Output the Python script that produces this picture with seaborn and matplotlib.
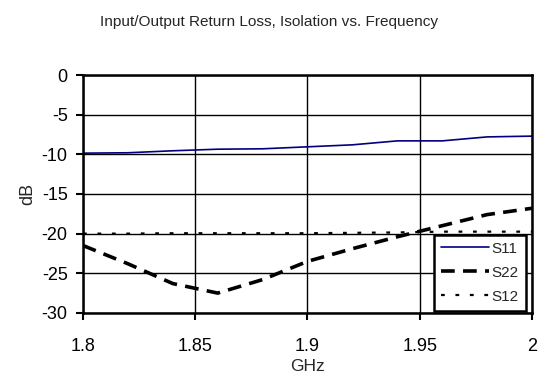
import matplotlib
matplotlib.use("Agg")
import matplotlib.pyplot as plt
import seaborn as sns
import pandas as pd

freq = [1.80, 1.82, 1.84, 1.86, 1.88, 1.90, 1.92, 1.94, 1.96, 1.98, 2.00]
s11 = [-9.85, -9.8, -9.55, -9.35, -9.3, -9.05, -8.8, -8.3, -8.3, -7.8, -7.7]
s22 = [-21.5, -23.8, -26.3, -27.5, -25.8, -23.5, -21.9, -20.4, -19.0, -17.6, -16.8]
s12 = [-20.0, -20.0, -19.95, -19.95, -19.95, -19.95, -19.9, -19.85, -19.75, -19.75, -19.75]
xticks = [1.8, 1.85, 1.9, 1.95, 2.0]
xticklabels = ["1.8", "1.85", "1.9", "1.95", "2"]
yticks = [0, -5, -10, -15, -20, -25, -30]

sns.set_style("white")
plt.rcParams['font.family'] = ['Liberation Sans', 'DejaVu Sans']

df = pd.DataFrame({"f": freq, "S11": s11, "S22": s22, "S12": s12})

fig = plt.figure(figsize=(5.39, 3.83), dpi=100)
ax = fig.add_axes([0.154, 0.183, 0.833, 0.621])

sns.lineplot(data=df, x="f", y="S11", ax=ax, color="#000080", linewidth=1.2, label="S11")
sns.lineplot(data=df, x="f", y="S22", ax=ax, color="black", linewidth=2.6, label="S22")
ax.lines[-1].set_dashes([3.8, 2.3])
sns.lineplot(data=df, x="f", y="S12", ax=ax, color="black", linewidth=1.6, label="S12")
ax.lines[-1].set_dashes([1.7, 4.8])

ax.set_xlim(1.8, 2.0)
ax.set_ylim(-30, 0)
ax.set_xticks(xticks)
ax.set_xticklabels(xticklabels)
ax.set_yticks(yticks)
ax.set_yticklabels([str(v) for v in yticks])
ax.grid(True, color="black", linewidth=1.0)
ax.set_axisbelow(True)
for s in ax.spines.values():
    s.set_color("black")
    s.set_linewidth(1.8)
ax.tick_params(axis="both", which="major", direction="out", length=5, width=1.5,
               color="black", labelsize=13, labelcolor="black")
ax.tick_params(axis="y", left=True, pad=6)
ax.tick_params(axis="x", bottom=True, pad=13)
ax.set_xlabel("GHz", fontsize=12.5, labelpad=3)
ax.set_ylabel("dB", fontsize=13, labelpad=4)

fig.suptitle("Input/Output Return Loss, Isolation vs. Frequency", fontsize=11.1, y=0.96)

leg = ax.legend(loc="lower right", bbox_to_anchor=(0.986, 0.01), frameon=True,
                fancybox=False, fontsize=11, handlelength=3.1, handletextpad=0.2,
                borderpad=0.45, labelspacing=0.65, borderaxespad=0)
leg.get_frame().set_edgecolor("black")
leg.get_frame().set_linewidth(1.8)
leg.get_frame().set_facecolor("white")
leg.get_frame().set_alpha(1)

fig.savefig("out.png", dpi=100)
